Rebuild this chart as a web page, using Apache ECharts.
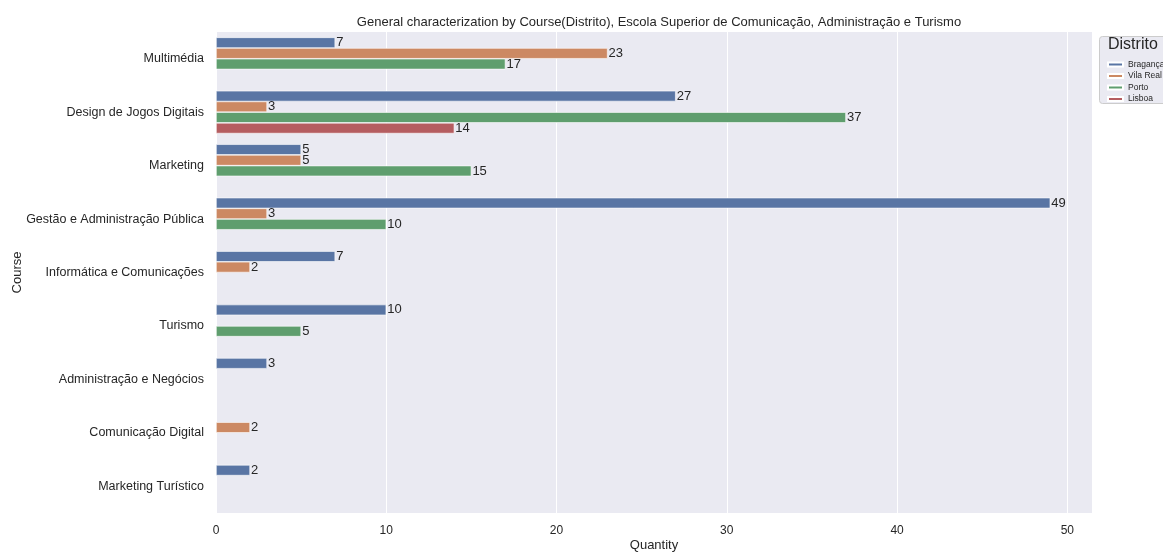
<!DOCTYPE html>
<html><head><meta charset="utf-8">
<script src="https://cdn.jsdelivr.net/npm/echarts@6/dist/echarts.min.js"></script>
<style>html,body{margin:0;padding:0;background:#fff;overflow:hidden}#c{width:1163px;height:552px}</style>
</head><body><div id="c"></div>
<script>
const categories = ["Multimédia","Design de Jogos Digitais","Marketing","Gestão e Administração Pública","Informática e Comunicações","Turismo","Administração e Negócios","Comunicação Digital","Marketing Turístico"];
const braganca = [7, 27, 5, 49, 7, 10, 3, null, 2];
const vilaReal = [23, 3, 5, 3, 2, null, null, 2, null];
const porto = [17, 37, 15, 10, null, 5, null, null, null];
const lisboa = [null, 14, null, null, null, null, null, null, null];
const xTicks = [0, 10, 20, 30, 40, 50];
const seriesNames = ["Bragança","Vila Real","Porto","Lisboa"];
const colors = ["#5975a4","#cc8963","#5f9e6e","#b55d60"];
const font = "Liberation Sans, Arial, sans-serif";

const chart = echarts.init(document.getElementById('c'), null, {renderer:'canvas', width:1163, height:552});
const mk = (name, data, color) => ({
  name, type:'bar', data,
  barGap:'0%', barCategoryGap:'20%',
  itemStyle:{color, borderColor:'#ffffff', borderWidth:0.6},
  label:{show:true, position:'right', distance:1, color:'#262626', fontSize:13, fontFamily:font,
    formatter:p=> p.value==null?'':p.value},
  emphasis:{disabled:true}, animation:false
});
chart.setOption({
  animation:false,
  backgroundColor:'#ffffff',
  title:{text:'General characterization by Course(Distrito), Escola Superior de Comunicação, Administração e Turismo',
    left:654, top:11, textAlign:'center',
    textStyle:{fontSize:13, fontWeight:'normal', color:'#262626', fontFamily:font}},
  grid:{left:216, right:71, top:32, bottom:39, show:true, backgroundColor:'#eaeaf2', borderWidth:0,
    containLabel:false, outerBoundsMode:'none'},
  legend:{data:seriesNames, orient:'vertical', left:1102, top:55, itemWidth:15, itemHeight:4, itemGap:2.5,
    icon:'rect', textStyle:{fontSize:8.5, color:'#262626', fontFamily:font}, selectedMode:false},
  graphic:[
    {type:'rect', left:1099, top:36, shape:{width:70, height:67, r:3}, style:{fill:'#eaeaf2', stroke:'#cccccc', lineWidth:1}, z:-1},
    {type:'text', left:1108, top:37, style:{text:'Distrito', fontSize:16, fill:'#262626', fontFamily:font}}
  ],
  xAxis:{type:'value', min:0, max:51.45, interval:10, name:'Quantity', nameLocation:'middle', nameGap:26,
    nameMoveOverlap:false,
    nameTextStyle:{fontSize:13, color:'#262626', fontFamily:font},
    axisLine:{show:false}, axisTick:{show:false},
    axisLabel:{fontSize:12, color:'#262626', fontFamily:font, margin:12,
      formatter:v=> xTicks.includes(v)? String(v):''},
    splitLine:{show:true, lineStyle:{color:'#ffffff', width:1}}},
  yAxis:{type:'category', data:categories, inverse:true, name:'Course', nameLocation:'middle', nameGap:192,
    nameMoveOverlap:false,
    nameTextStyle:{fontSize:13, color:'#262626', fontFamily:font},
    axisLine:{show:false}, axisTick:{show:false},
    axisLabel:{fontSize:12.5, color:'#262626', fontFamily:font, margin:12},
    splitLine:{show:false}},
  series:[mk(seriesNames[0], braganca, colors[0]), mk(seriesNames[1], vilaReal, colors[1]),
          mk(seriesNames[2], porto, colors[2]), mk(seriesNames[3], lisboa, colors[3])]
});
</script></body></html>
